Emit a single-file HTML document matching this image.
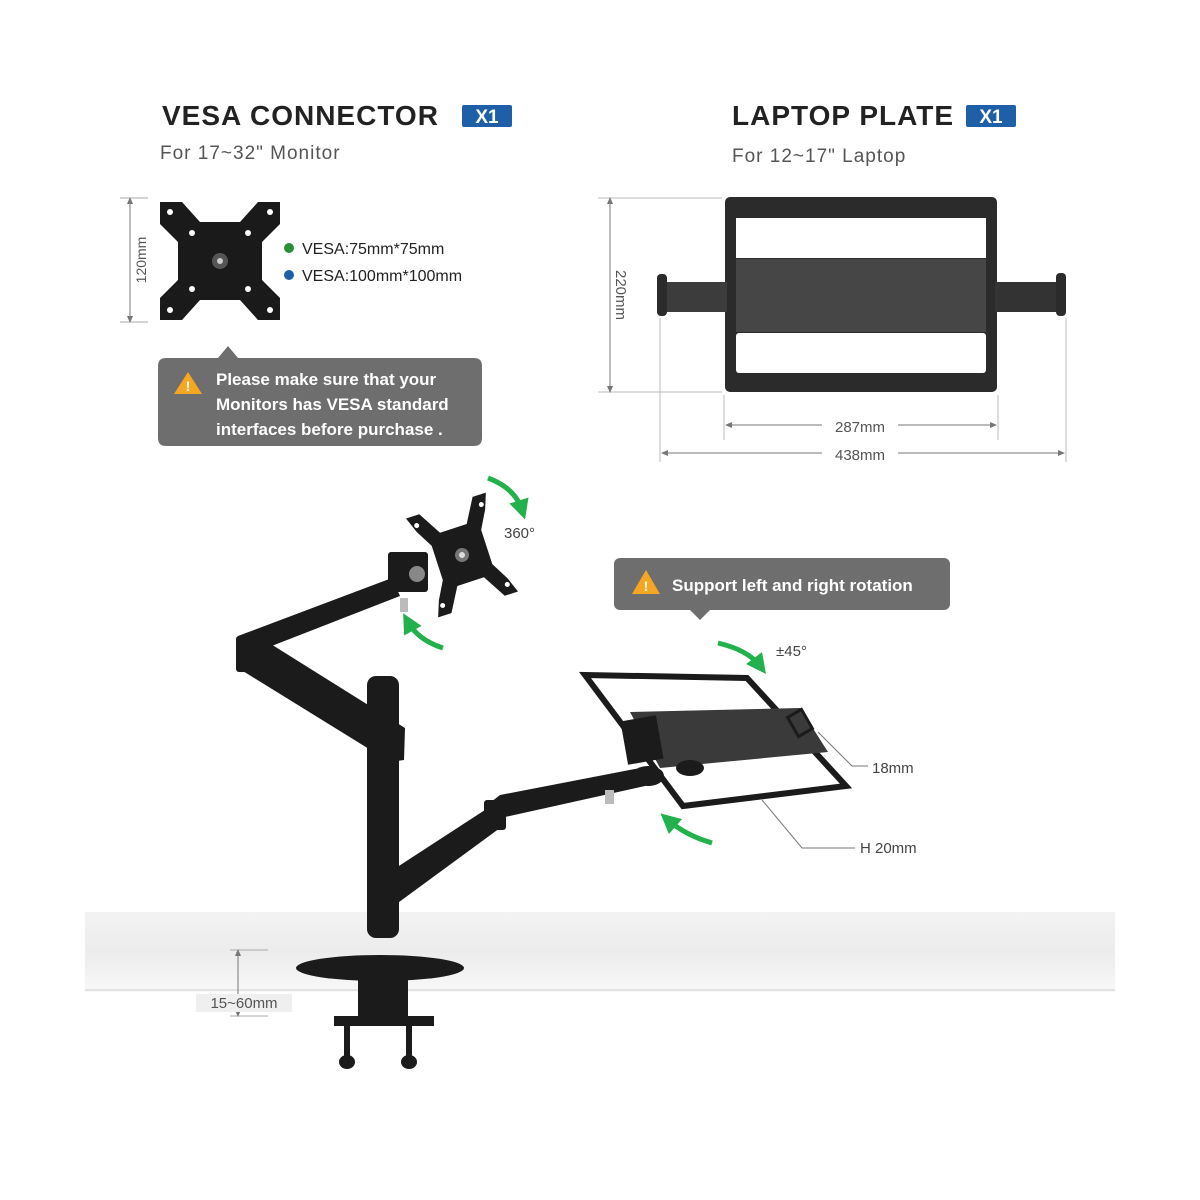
<!DOCTYPE html>
<html><head><meta charset="utf-8"><style>
html,body{margin:0;padding:0;background:#fff;}
svg{display:block;}
text{font-family:"Liberation Sans",sans-serif;}
</style></head><body>
<svg width="1200" height="1200" viewBox="0 0 1200 1200" xmlns="http://www.w3.org/2000/svg">
<defs>
<linearGradient id="desk" x1="0" y1="0" x2="0" y2="1">
<stop offset="0" stop-color="#f3f3f3"/><stop offset="0.5" stop-color="#ececec"/><stop offset="1" stop-color="#f8f8f8"/>
</linearGradient>
<marker id="ah" markerWidth="8" markerHeight="8" refX="4" refY="4" orient="auto-start-reverse"><path d="M0,1 L7,4 L0,7 z" fill="#777"/></marker>
<marker id="ga" markerWidth="4" markerHeight="4" refX="2" refY="2" orient="auto"><path d="M0,0 L4,2 L0,4 z" fill="#22b14c"/></marker>
</defs>

<text x="162" y="125" font-size="28" font-weight="bold" fill="#222" letter-spacing="1">VESA CONNECTOR</text>
<rect x="462" y="105" width="50" height="22" rx="2" fill="#1f5fa8"/>
<text x="487" y="123" font-size="19" font-weight="bold" fill="#fff" text-anchor="middle">X1</text>
<text x="160" y="159" font-size="19" fill="#555" letter-spacing="1">For 17~32" Monitor</text>

<text x="732" y="125" font-size="28" font-weight="bold" fill="#222" letter-spacing="1">LAPTOP PLATE</text>
<rect x="966" y="105" width="50" height="22" rx="2" fill="#1f5fa8"/>
<text x="991" y="123" font-size="19" font-weight="bold" fill="#fff" text-anchor="middle">X1</text>
<text x="732" y="162" font-size="19" fill="#555" letter-spacing="1">For 12~17" Laptop</text>

<line x1="120" y1="198" x2="148" y2="198" stroke="#aaa"/>
<line x1="120" y1="322" x2="148" y2="322" stroke="#aaa"/>
<line x1="130" y1="200" x2="130" y2="320" stroke="#777" marker-start="url(#ah)" marker-end="url(#ah)"/>
<text transform="translate(146,260) rotate(-90)" font-size="14" fill="#555" text-anchor="middle">120mm</text>
<path d="M160,202 L182,202 L200,222 L240,222 L258,202 L280,202 L280,224 L262,242 L262,280 L280,298 L280,320 L258,320 L240,300 L200,300 L182,320 L160,320 L160,298 L178,280 L178,242 L160,224 z" fill="#1a1a1a"/>
<circle cx="220" cy="261" r="8" fill="#555"/>
<circle cx="220" cy="261" r="3" fill="#ccc"/>
<g fill="#fff"><circle cx="170" cy="212" r="3"/><circle cx="270" cy="212" r="3"/><circle cx="170" cy="310" r="3"/><circle cx="270" cy="310" r="3"/>
<circle cx="192" cy="233" r="3"/><circle cx="248" cy="233" r="3"/><circle cx="192" cy="289" r="3"/><circle cx="248" cy="289" r="3"/></g>
<circle cx="289" cy="248" r="5" fill="#2a8f3a"/>
<circle cx="289" cy="275" r="5" fill="#1f5fa8"/>
<text x="302" y="254" font-size="16" fill="#222">VESA:75mm*75mm</text>
<text x="302" y="281" font-size="16" fill="#222">VESA:100mm*100mm</text>

<path d="M166,358 L218,358 L228,346 L238,358 L474,358 Q482,358 482,366 L482,438 Q482,446 474,446 L166,446 Q158,446 158,438 L158,366 Q158,358 166,358 z" fill="#6e6e6e"/>
<path d="M188,372 L202,394 L174,394 z" fill="#f5a623"/>
<text x="188" y="391" font-size="14" font-weight="bold" fill="#fff" text-anchor="middle">!</text>
<text x="216" y="385" font-size="17" font-weight="bold" fill="#fff">Please make sure that your</text>
<text x="216" y="410" font-size="17" font-weight="bold" fill="#fff">Monitors has VESA standard</text>
<text x="216" y="435" font-size="17" font-weight="bold" fill="#fff">interfaces before purchase .</text>

<!-- Laptop plate -->
<line x1="598" y1="198" x2="722" y2="198" stroke="#bbb"/>
<line x1="598" y1="392" x2="722" y2="392" stroke="#bbb"/>
<line x1="610" y1="200" x2="610" y2="390" stroke="#777" marker-start="url(#ah)" marker-end="url(#ah)"/>
<text transform="translate(616,295) rotate(90)" font-size="15" fill="#555" text-anchor="middle">220mm</text>
<rect x="725" y="197" width="272" height="195" rx="5" fill="#2b2b2b"/>
<rect x="736" y="218" width="250" height="40" fill="#fff"/>
<rect x="736" y="259" width="250" height="73" fill="#464646"/>
<rect x="736" y="333" width="250" height="40" rx="3" fill="#fff"/>
<rect x="665" y="282" width="62" height="30" fill="#3c3c3c"/>
<rect x="995" y="282" width="64" height="30" fill="#333"/>
<rect x="657" y="274" width="10" height="42" rx="4" fill="#2b2b2b"/>
<rect x="1056" y="273" width="10" height="43" rx="4" fill="#2b2b2b"/>
<line x1="724" y1="395" x2="724" y2="440" stroke="#bbb"/>
<line x1="998" y1="395" x2="998" y2="440" stroke="#bbb"/>
<line x1="660" y1="318" x2="660" y2="462" stroke="#bbb"/>
<line x1="1066" y1="318" x2="1066" y2="462" stroke="#bbb"/>
<line x1="728" y1="425" x2="994" y2="425" stroke="#777" marker-start="url(#ah)" marker-end="url(#ah)"/>
<rect x="822" y="416" width="76" height="18" fill="#fff"/>
<text x="860" y="432" font-size="15" fill="#555" text-anchor="middle">287mm</text>
<line x1="664" y1="453" x2="1062" y2="453" stroke="#777" marker-start="url(#ah)" marker-end="url(#ah)"/>
<rect x="822" y="444" width="76" height="18" fill="#fff"/>
<text x="860" y="460" font-size="15" fill="#555" text-anchor="middle">438mm</text>

<rect x="85" y="912" width="1030" height="80" fill="url(#desk)"/>
<line x1="85" y1="990" x2="1115" y2="990" stroke="#e2e2e2" stroke-width="2"/>

<!-- Arm -->
<g fill="#1b1b1b">
<rect x="367" y="676" width="32" height="262" rx="9"/>
<!-- upper arm: elbow to head -->
<path d="M238,636 L392,578 L400,596 L246,656 z"/>
<!-- elbow down to pole -->
<path d="M238,640 L258,636 L405,728 L404,760 L390,762 L238,668 z"/>
<rect x="236" y="636" width="22" height="36" rx="3"/>
<!-- head block -->
<rect x="388" y="552" width="40" height="40" rx="3"/>
<!-- lower arm -->
<path d="M385,875 L488,808 L500,828 L395,905 z"/>
<path d="M486,806 L500,795 L640,768 L645,786 L505,817 z"/>
<rect x="484" y="800" width="22" height="30" rx="3"/>
<!-- base -->
<ellipse cx="380" cy="968" rx="84" ry="13"/>
<rect x="358" y="978" width="50" height="42"/>
<rect x="334" y="1016" width="100" height="10"/>
<rect x="344" y="1024" width="6" height="34"/>
<rect x="406" y="1024" width="6" height="34"/>
<ellipse cx="347" cy="1062" rx="8" ry="7"/>
<ellipse cx="409" cy="1062" rx="8" ry="7"/>
</g>
<!-- VESA head on arm -->
<g transform="translate(462,555) rotate(-18)">
<path d="M-42,-52 L-28,-52 L-14,-28 L14,-28 L28,-52 L42,-52 L36,-36 L26,-18 L26,18 L36,36 L42,52 L28,52 L14,28 L-14,28 L-28,52 L-42,52 L-36,36 L-26,18 L-26,-18 L-36,-36 z" fill="#1b1b1b"/>
<circle cx="0" cy="0" r="7" fill="#777"/>
<circle cx="0" cy="0" r="3" fill="#ddd"/>
<g fill="#fff"><circle cx="-34" cy="-42" r="2.5"/><circle cx="34" cy="-42" r="2.5"/><circle cx="-34" cy="42" r="2.5"/><circle cx="34" cy="42" r="2.5"/></g>
</g>
<circle cx="417" cy="574" r="8" fill="#888"/>
<rect x="400" y="598" width="8" height="14" fill="#bbb"/>
<rect x="605" y="790" width="9" height="14" fill="#bbb"/>

<!-- Laptop tray -->
<path d="M585,675 L747,678 L846,786 L683,806 z" fill="none" stroke="#1b1b1b" stroke-width="6"/>
<path d="M630,712 L800,708 L828,752 L660,768 z" fill="#3a3a3a"/>
<rect x="624" y="718" width="36" height="44" fill="#1b1b1b" transform="rotate(-10 642 740)"/>
<ellipse cx="648" cy="776" rx="16" ry="10" fill="#1b1b1b"/>
<ellipse cx="690" cy="768" rx="14" ry="8" fill="#1b1b1b"/>
<rect x="792" y="712" width="16" height="22" fill="none" stroke="#1b1b1b" stroke-width="3" transform="rotate(-30 800 723)"/>

<!-- green arrows -->
<g fill="none" stroke="#22b14c" stroke-width="5">
<path d="M488,478 Q515,488 522,510" marker-end="url(#ga)"/>
<path d="M443,648 Q418,640 408,622" marker-end="url(#ga)"/>
<path d="M718,643 Q748,650 760,666" marker-end="url(#ga)"/>
<path d="M712,843 Q685,835 668,820" marker-end="url(#ga)"/>
</g>
<text x="504" y="538" font-size="15" fill="#444">360°</text>
<text x="776" y="656" font-size="15" fill="#444">±45°</text>

<rect x="614" y="558" width="336" height="52" rx="6" fill="#6e6e6e"/>
<path d="M690,610 L700,620 L710,610 z" fill="#6e6e6e"/>
<path d="M646,570 L660,594 L632,594 z" fill="#f5a623"/>
<text x="646" y="591" font-size="14" font-weight="bold" fill="#fff" text-anchor="middle">!</text>
<text x="672" y="591" font-size="17" font-weight="bold" fill="#fff">Support left and right rotation</text>

<polyline points="818,732 852,766 868,766" fill="none" stroke="#777"/>
<text x="872" y="773" font-size="15" fill="#444">18mm</text>
<polyline points="762,800 802,848 855,848" fill="none" stroke="#777"/>
<text x="860" y="853" font-size="15" fill="#444">H 20mm</text>

<line x1="230" y1="950" x2="268" y2="950" stroke="#aaa"/>
<line x1="230" y1="1016" x2="268" y2="1016" stroke="#aaa"/>
<line x1="238" y1="952" x2="238" y2="1014" stroke="#777" marker-start="url(#ah)" marker-end="url(#ah)"/>
<rect x="196" y="994" width="96" height="18" fill="#efefef"/>
<text x="244" y="1008" font-size="15" fill="#555" text-anchor="middle">15~60mm</text>
</svg>
</body></html>
